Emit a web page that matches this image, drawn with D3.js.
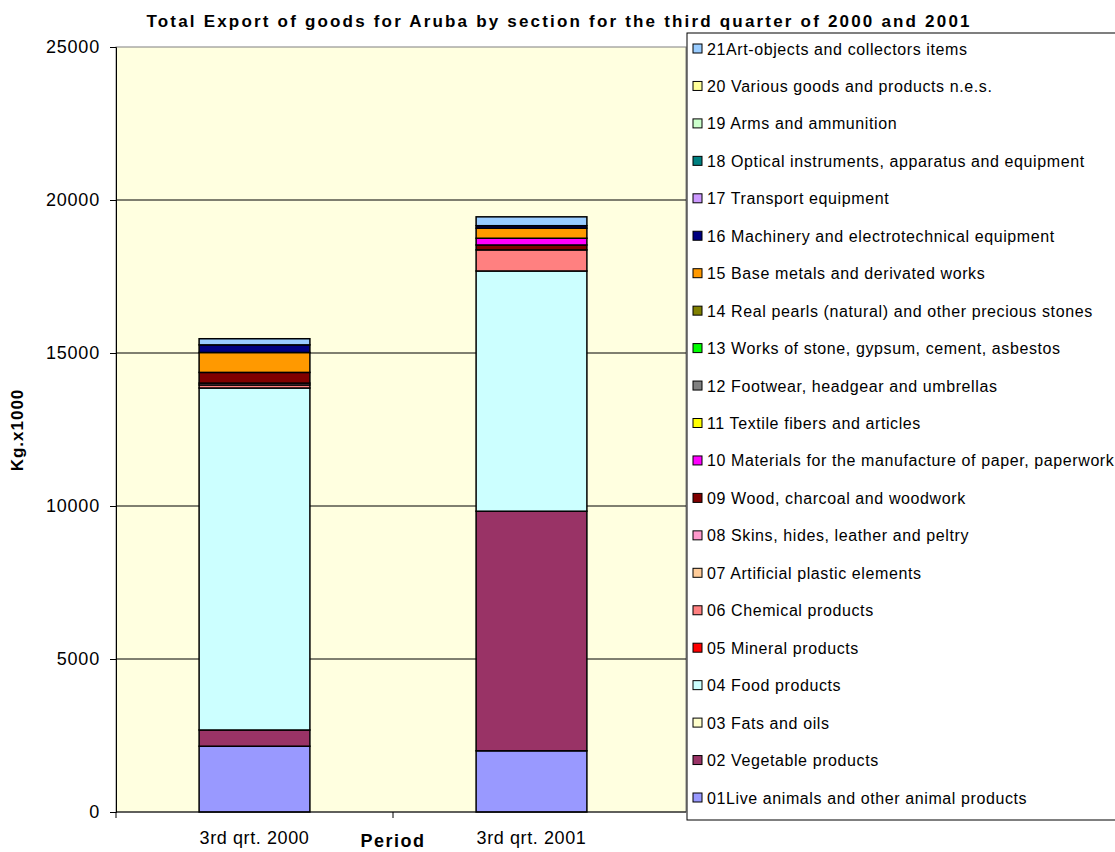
<!DOCTYPE html>
<html>
<head>
<meta charset="utf-8">
<script src="https://cdnjs.cloudflare.com/ajax/libs/d3/7.8.5/d3.min.js"></script>
<style>
  body { margin: 0; background: #fff; }
  text { font-family: "Liberation Sans", Arial, sans-serif; }
</style>
</head>
<body>
<svg id="chart" width="1115" height="852"></svg>
<script>
"use strict";

// periods on the x axis
var periods = ["3rd qrt. 2000", "3rd qrt. 2001"];

// sections, bottom of the stack first
var sections = [
  "01Live animals and other animal products",
  "02 Vegetable products",
  "03 Fats and oils",
  "04 Food products",
  "05 Mineral products",
  "06 Chemical products",
  "07 Artificial plastic elements",
  "08 Skins, hides, leather and peltry",
  "09 Wood, charcoal and woodwork",
  "10 Materials for the manufacture of paper, paperwork",
  "11 Textile fibers and articles",
  "12 Footwear, headgear and umbrellas",
  "13 Works of stone, gypsum, cement, asbestos",
  "14 Real pearls (natural) and other precious stones",
  "15 Base metals and derivated works",
  "16 Machinery and electrotechnical equipment",
  "17 Transport equipment",
  "18 Optical instruments, apparatus and equipment",
  "19 Arms and ammunition",
  "20 Various goods and products n.e.s.",
  "21Art-objects and collectors items"
];

var sectionColors = [
  "#9999FF", "#993366", "#FFFFCC", "#CCFFFF", "#FF0000", "#FF8080", "#FFCC99",
  "#FF99CC", "#800000", "#FF00FF", "#FFFF00", "#808080", "#00FF00", "#808000",
  "#FF9900", "#000080", "#CC99FF", "#008080", "#CCFFCC", "#FFFF99", "#99CCFF"
];

// Kg x 1000, one value per section (same order as above)
var values2000 = [2150, 530, 0, 11176, 0, 100, 0, 60, 350, 0, 0, 0, 0, 0, 650, 250, 0, 0, 0, 0, 200];
var values2001 = [2000, 7830, 0, 7850, 0, 690, 0, 0, 160, 220, 0, 0, 0, 0, 330, 80, 0, 0, 0, 0, 290];

var yTicks = [0, 5000, 10000, 15000, 20000, 25000];

var svg = d3.select("#chart");
var plot = { left: 116, right: 686, top: 47, bottom: 812 };

var rows = periods.map(function(p, i) {
  var row = { period: p };
  var vals = i === 0 ? values2000 : values2001;
  sections.forEach(function(s, j) { row[s] = vals[j]; });
  return row;
});

var y = d3.scaleLinear().domain([0, 25000]).range([plot.bottom, plot.top]);
var x = d3.scaleBand().domain(periods).range([plot.left, 670]).paddingInner(0.6).paddingOuter(0.3);

// plot background
svg.append("rect")
  .attr("x", plot.left).attr("y", plot.top)
  .attr("width", plot.right - plot.left).attr("height", plot.bottom - plot.top)
  .attr("fill", "#FFFFE0")
  .attr("stroke", "#808080").attr("stroke-width", 1);

// gridlines
svg.append("g").selectAll("line")
  .data(yTicks.slice(1, -1))
  .enter().append("line")
  .attr("x1", plot.left).attr("x2", plot.right)
  .attr("y1", function(d) { return y(d); }).attr("y2", function(d) { return y(d); })
  .attr("stroke", "#000").attr("stroke-width", 1);

// stacked bars
var stack = d3.stack().keys(sections)(rows);
svg.append("g").selectAll("g")
  .data(stack)
  .enter().append("g")
  .attr("fill", function(d, i) { return sectionColors[i]; })
  .selectAll("rect")
  .data(function(d) { return d.filter(function(s) { return s[1] - s[0] > 0; }); })
  .enter().append("rect")
  .attr("x", function(d) { return x(d.data.period); })
  .attr("width", x.bandwidth())
  .attr("y", function(d) { return y(d[1]); })
  .attr("height", function(d) { return y(d[0]) - y(d[1]); })
  .attr("stroke", "#000").attr("stroke-width", 1.5);

// y axis
var yAxis = svg.append("g")
  .attr("transform", "translate(" + plot.left + ",0)")
  .call(d3.axisLeft(y).tickValues(yTicks).tickSize(6).tickPadding(10).tickFormat(d3.format("d")));
yAxis.select(".domain").attr("stroke", "#000");
yAxis.selectAll("text").attr("font-size", "18px").attr("fill", "#000")
  .attr("letter-spacing", "0.8px")
  .attr("font-family", "Liberation Sans, Arial, sans-serif");

// x axis
var xAxis = svg.append("g")
  .attr("transform", "translate(0," + plot.bottom + ")")
  .call(d3.axisBottom(x).tickSize(0).tickPadding(19));
xAxis.select(".domain").attr("stroke", "#000").attr("d", "M" + plot.left + ",0H" + plot.right);
xAxis.selectAll("text").attr("font-size", "18px").attr("fill", "#000")
  .attr("letter-spacing", "0.6px")
  .attr("font-family", "Liberation Sans, Arial, sans-serif");
// tick marks between categories
svg.append("g").selectAll("line")
  .data([plot.left, 393])
  .enter().append("line")
  .attr("x1", function(d) { return d; }).attr("x2", function(d) { return d; })
  .attr("y1", plot.bottom).attr("y2", plot.bottom + 6)
  .attr("stroke", "#000");

// titles
svg.append("text")
  .attr("x", 558).attr("y", 27)
  .attr("text-anchor", "middle")
  .attr("font-size", "17px").attr("font-weight", "bold")
  .attr("textLength", 823).attr("lengthAdjust", "spacing")
  .text("Total Export of goods for Aruba by section for the third quarter of 2000 and 2001");

svg.append("text")
  .attr("x", 393).attr("y", 847)
  .attr("text-anchor", "middle")
  .attr("font-size", "18px").attr("font-weight", "bold")
  .attr("letter-spacing", "1.5px")
  .text("Period");

svg.append("text")
  .attr("transform", "translate(23,430) rotate(-90)")
  .attr("text-anchor", "middle")
  .attr("font-size", "17px").attr("font-weight", "bold")
  .attr("letter-spacing", "1px")
  .text("Kg.x1000");

// legend
var legend = svg.append("g");
legend.append("rect")
  .attr("x", 687).attr("y", 33).attr("width", 440).attr("height", 787)
  .attr("fill", "#fff").attr("stroke", "#000").attr("stroke-width", 1);

var legendItems = sections.slice().reverse();
var ly = d3.scalePoint().domain(legendItems).range([49, 798]);
var item = legend.selectAll("g.item")
  .data(legendItems)
  .enter().append("g")
  .attr("class", "item")
  .attr("transform", function(d) { return "translate(693," + ly(d) + ")"; });
item.append("rect")
  .attr("x", 0).attr("y", -5).attr("width", 9).attr("height", 9)
  .attr("fill", function(d) { return sectionColors[sections.indexOf(d)]; })
  .attr("stroke", "#000").attr("stroke-width", 1);
item.append("text")
  .attr("x", 14).attr("y", 5.5)
  .attr("font-size", "16px")
  .attr("letter-spacing", "0.6px")
  .text(function(d) { return d; });
</script>
</body>
</html>
